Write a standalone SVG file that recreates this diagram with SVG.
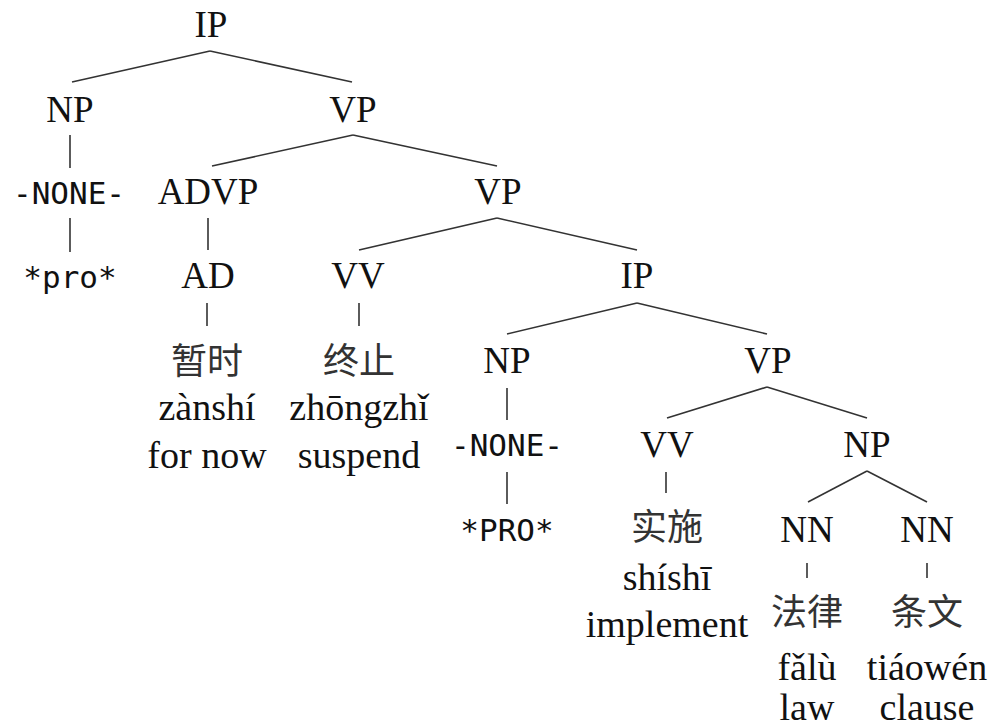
<svg xmlns="http://www.w3.org/2000/svg" width="994" height="727" viewBox="0 0 994 727">
<style>
.lbl{font-family:"Liberation Serif","Times New Roman",serif;font-size:37px;fill:#111;text-anchor:middle}
.mono{font-family:"DejaVu Sans Mono","Liberation Mono",monospace;font-size:31px;fill:#111;text-anchor:middle}
.zh{font-family:"Noto Sans CJK SC","Noto Sans CJK TC",sans-serif;font-size:36px;fill:#333;text-anchor:middle}
.w{font-family:"Liberation Serif","Times New Roman",serif;font-size:38px;fill:#111;text-anchor:middle}
.e line{stroke:#333;stroke-width:1.6;fill:none}
</style>
<rect width="994" height="727" fill="#fff"/>
<g id="edges" class="e">
<line x1="210" y1="51" x2="72" y2="82"/>
<line x1="210" y1="51" x2="352" y2="82"/>
<line x1="70" y1="135" x2="70" y2="168"/>
<line x1="70" y1="218" x2="70" y2="252"/>
<line x1="353" y1="135" x2="212" y2="166"/>
<line x1="353" y1="135" x2="497" y2="166"/>
<line x1="208" y1="218" x2="208" y2="250"/>
<line x1="497" y1="218" x2="359" y2="250"/>
<line x1="497" y1="218" x2="637" y2="250"/>
<line x1="207" y1="303" x2="207" y2="326"/>
<line x1="359" y1="303" x2="359" y2="326"/>
<line x1="637" y1="303" x2="507" y2="334"/>
<line x1="637" y1="303" x2="767" y2="334"/>
<line x1="507" y1="388" x2="507" y2="420"/>
<line x1="507" y1="472" x2="507" y2="504"/>
<line x1="767" y1="387" x2="667" y2="418"/>
<line x1="767" y1="387" x2="867" y2="418"/>
<line x1="666" y1="472" x2="666" y2="493"/>
<line x1="867" y1="471" x2="808" y2="502"/>
<line x1="867" y1="471" x2="927" y2="502"/>
<line x1="807" y1="563" x2="807" y2="578"/>
<line x1="927" y1="563" x2="927" y2="578"/>
</g>
<g id="n-ip1"><text class="lbl" x="211" y="37">IP</text></g>
<g id="n-np1"><text class="lbl" x="70" y="122">NP</text></g>
<g id="n-vp1"><text class="lbl" x="353" y="122">VP</text></g>
<g id="n-none1"><text class="mono" x="69" y="204">-NONE-</text></g>
<g id="n-pro1"><text class="mono" x="70" y="288">*pro*</text></g>
<g id="n-advp"><text class="lbl" x="208" y="204">ADVP</text></g>
<g id="n-ad"><text class="lbl" x="208" y="288">AD</text></g>
<g id="n-vp2"><text class="lbl" x="498" y="204">VP</text></g>
<g id="n-vv1"><text class="lbl" x="358" y="288">VV</text></g>
<g id="n-ip2"><text class="lbl" x="637" y="288">IP</text></g>
<g id="w-zanshi">
<text class="zh" x="207" y="374">暂时</text>
<text class="w" x="207" y="420">zànshí</text>
<text class="w" x="207" y="468">for now</text>
</g>
<g id="w-zhongzhi">
<text class="zh" x="359" y="374">终止</text>
<text class="w" x="359" y="420">zhōngzhǐ</text>
<text class="w" x="359" y="468">suspend</text>
</g>
<g id="n-np3"><text class="lbl" x="507" y="373">NP</text></g>
<g id="n-vp3"><text class="lbl" x="768" y="373">VP</text></g>
<g id="n-none2"><text class="mono" x="507" y="456">-NONE-</text></g>
<g id="n-pro2"><text class="mono" x="507" y="541">*PRO*</text></g>
<g id="n-vv2"><text class="lbl" x="667" y="457">VV</text></g>
<g id="n-np4"><text class="lbl" x="867" y="457">NP</text></g>
<g id="w-shishi">
<text class="zh" x="667" y="540">实施</text>
<text class="w" x="667" y="590">shíshī</text>
<text class="w" x="667" y="637">implement</text>
</g>
<g id="n-nn1"><text class="lbl" x="807" y="542">NN</text></g>
<g id="n-nn2"><text class="lbl" x="927" y="542">NN</text></g>
<g id="w-falu">
<text class="zh" x="807" y="625">法律</text>
<text class="w" x="807" y="680">fǎlù</text>
<text class="w" x="807" y="720">law</text>
</g>
<g id="w-tiaowen">
<text class="zh" x="927" y="625">条文</text>
<text class="w" x="927" y="680">tiáowén</text>
<text class="w" x="927" y="720">clause</text>
</g>
</svg>
